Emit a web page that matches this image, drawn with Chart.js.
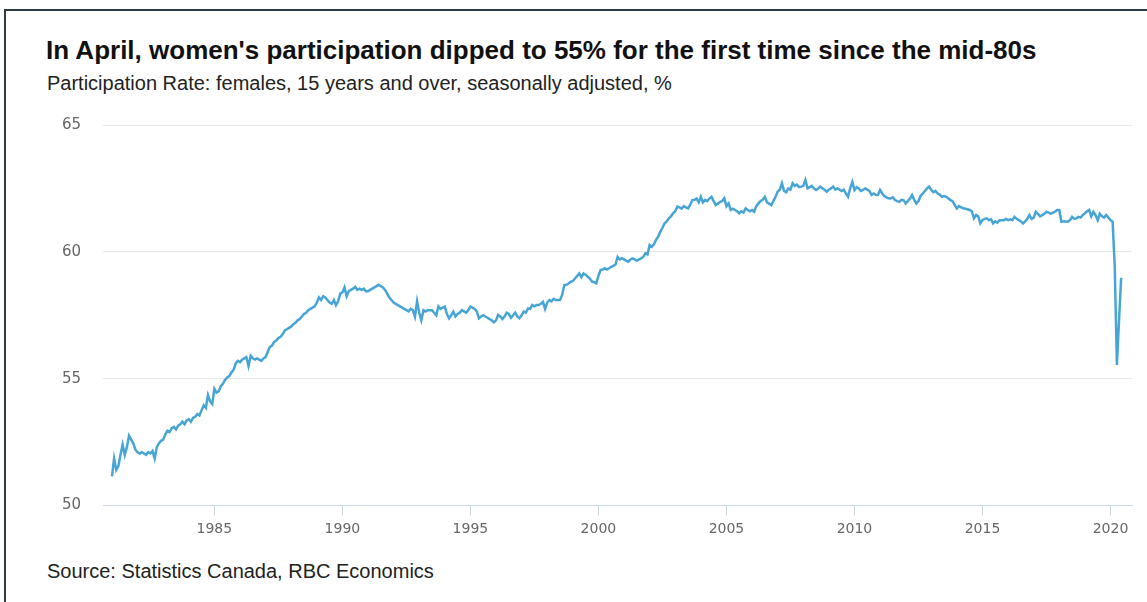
<!DOCTYPE html>
<html>
<head>
<meta charset="utf-8">
<script src="https://cdn.jsdelivr.net/npm/chart.js@4.4.1/dist/chart.umd.min.js"></script>
<style>
  html, body { margin: 0; padding: 0; background: #fff; }
  body { width: 1147px; height: 602px; position: relative; overflow: hidden; }
  .frame { position: absolute; left: 4px; top: 9px; right: -4px; bottom: -4px;
           border-top: 2px solid #2e3a44; border-left: 2px solid #2e3a44; }
  .title { position: absolute; left: 46px; top: 35px; font: bold 26px "Liberation Sans", Arial, sans-serif;
           color: #111; white-space: nowrap; }
  .subtitle { position: absolute; left: 47px; top: 72px; font: 20px "Liberation Sans", Arial, sans-serif;
              color: #222; white-space: nowrap; }
  .source { position: absolute; left: 47px; top: 560px; font: 20px "Liberation Sans", Arial, sans-serif;
            color: #222; white-space: nowrap; }
  .wrap { position: absolute; left: 0; top: 94px; width: 1147px; height: 452px; }
</style>
</head>
<body>
<div class="frame"></div>
<div class="title">In April, women's participation dipped to 55% for the first time since the mid-80s</div>
<div class="subtitle">Participation Rate: females, 15 years and over, seasonally adjusted, %</div>
<div class="wrap"><canvas id="rateChart"></canvas></div>
<div class="source">Source: Statistics Canada, RBC Economics</div>
<script>
// monthly participation rate, women 15+, one row of 12 months per year
const rate1980s = [
  [51.15, 51.85, 51.4, 51.55, 52.0, 52.4, 52.0, 52.3, 52.75, 52.6, 52.45, 52.2],   // 1981
  [52.1, 52.05, 52.1, 52.05, 52.0, 52.1, 52.05, 52.15, 51.85, 52.3, 52.45, 52.55],  // 1982
  [52.6, 52.8, 52.95, 52.9, 53.05, 53.1, 53.0, 53.15, 53.2, 53.3, 53.2, 53.35],
  [53.4, 53.3, 53.45, 53.5, 53.6, 53.55, 53.75, 53.95, 53.85, 54.35, 54.1, 54.0],
  [54.6, 54.45, 54.5, 54.7, 54.8, 54.95, 55.05, 55.1, 55.25, 55.35, 55.6, 55.7],
  [55.65, 55.75, 55.8, 55.85, 55.5, 55.9, 55.8, 55.75, 55.8, 55.75, 55.7, 55.8],
  [55.85, 56.05, 56.25, 56.3, 56.45, 56.5, 56.6, 56.65, 56.75, 56.9, 56.95, 57.0],
  [57.05, 57.15, 57.2, 57.3, 57.35, 57.45, 57.55, 57.6, 57.7, 57.75, 57.8, 57.85],
  [58.0, 58.2, 58.1, 58.25, 58.2, 58.1, 58.0, 57.95, 58.1, 57.9, 58.05, 58.35]      // 1989
];
const rate1990s = [
  [58.4, 58.6, 58.25, 58.45, 58.5, 58.55, 58.62, 58.5, 58.55, 58.5, 58.55, 58.45],
  [58.45, 58.5, 58.55, 58.6, 58.65, 58.7, 58.65, 58.6, 58.5, 58.35, 58.2, 58.1],
  [58.0, 57.95, 57.9, 57.85, 57.8, 57.75, 57.7, 57.65, 57.75, 57.7, 57.44, 58.05],
  [57.6, 57.3, 57.7, 57.65, 57.7, 57.7, 57.7, 57.6, 57.5, 57.85, 57.75, 57.8],
  [57.84, 57.55, 57.38, 57.5, 57.64, 57.45, 57.55, 57.6, 57.7, 57.65, 57.6, 57.7],
  [57.84, 57.8, 57.75, 57.65, 57.38, 57.45, 57.5, 57.45, 57.4, 57.35, 57.3, 57.22],
  [57.3, 57.51, 57.45, 57.35, 57.45, 57.6, 57.55, 57.4, 57.5, 57.6, 57.45, 57.38],
  [57.5, 57.64, 57.6, 57.77, 57.75, 57.9, 57.85, 57.9, 57.9, 57.95, 58.03, 57.75],
  [58.0, 58.1, 58.05, 58.15, 58.1, 58.1, 58.1, 58.3, 58.69, 58.7, 58.75, 58.82],
  [58.85, 58.95, 59.05, 59.15, 59.0, 59.15, 59.1, 59.02, 58.95, 58.82, 58.8, 58.76]
];
const rate2000s = [
  [59.05, 59.28, 59.3, 59.35, 59.3, 59.35, 59.41, 59.45, 59.5, 59.8, 59.7, 59.75],
  [59.7, 59.65, 59.61, 59.7, 59.74, 59.7, 59.65, 59.7, 59.74, 59.8, 59.94, 59.9],
  [60.27, 60.2, 60.3, 60.47, 60.6, 60.79, 60.95, 61.12, 61.2, 61.32, 61.4, 61.52],
  [61.6, 61.78, 61.75, 61.7, 61.8, 61.75, 61.71, 61.85, 62.04, 62.05, 62.1, 61.95],
  [62.17, 61.95, 62.05, 62.0, 62.1, 62.17, 62.0, 61.84, 61.9, 61.97, 62.0, 62.11],
  [61.8, 61.91, 61.65, 61.7, 61.65, 61.6, 61.52, 61.6, 61.55, 61.71, 61.65, 61.6],
  [61.65, 61.58, 61.8, 61.91, 62.0, 62.05, 62.17, 61.95, 61.9, 61.84, 62.0, 62.17],
  [62.37, 62.45, 62.7, 62.4, 62.35, 62.5, 62.45, 62.7, 62.6, 62.65, 62.55, 62.57],
  [62.6, 62.83, 62.5, 62.55, 62.6, 62.5, 62.44, 62.5, 62.57, 62.5, 62.45, 62.37],
  [62.45, 62.5, 62.57, 62.45, 62.5, 62.45, 62.4, 62.45, 62.3, 62.17, 62.5, 62.76]
];
const rate2010s = [
  [62.44, 62.55, 62.5, 62.4, 62.44, 62.5, 62.45, 62.4, 62.24, 62.3, 62.25, 62.24],
  [62.44, 62.3, 62.2, 62.15, 62.11, 62.1, 62.15, 62.04, 62.0, 61.97, 62.05, 62.04],
  [61.91, 62.0, 62.1, 62.24, 62.05, 61.91, 62.0, 62.2, 62.3, 62.4, 62.5, 62.57],
  [62.44, 62.35, 62.4, 62.3, 62.25, 62.17, 62.2, 62.17, 62.1, 62.04, 62.0, 61.84],
  [61.71, 61.8, 61.75, 61.72, 61.7, 61.68, 61.65, 61.6, 61.32, 61.45, 61.4, 61.12],
  [61.25, 61.3, 61.32, 61.25, 61.28, 61.12, 61.2, 61.15, 61.25, 61.25, 61.25, 61.3],
  [61.25, 61.28, 61.25, 61.38, 61.3, 61.25, 61.2, 61.12, 61.2, 61.3, 61.45, 61.3],
  [61.35, 61.58, 61.5, 61.4, 61.45, 61.5, 61.58, 61.55, 61.5, 61.55, 61.58, 61.65],
  [61.65, 61.19, 61.2, 61.2, 61.19, 61.25, 61.38, 61.3, 61.32, 61.38, 61.35, 61.45],
  [61.52, 61.6, 61.65, 61.4, 61.58, 61.45, 61.25, 61.5, 61.4, 61.35, 61.45, 61.35]
];
const rate2020 = [61.25, 61.19, 59.4, 55.54, 57.3, 58.98];   // Jan - Jun

const yearTicks = [1985, 1990, 1995, 2000, 2005, 2010, 2015, 2020];
const yTicks = [50, 55, 60, 65];

// flatten into {x: decimal year, y: rate}
const points = [];
function addYears(rows, firstYear) {
  rows.forEach((months, i) => {
    months.forEach((v, m) => points.push({ x: firstYear + i + m / 12, y: v }));
  });
}
addYears(rate1980s, 1981);
addYears(rate1990s, 1990);
addYears(rate2000s, 2000);
addYears(rate2010s, 2010);
addYears([rate2020], 2020);

const fontFamily = '"DejaVu Sans", sans-serif';

new Chart(document.getElementById('rateChart'), {
  type: 'line',
  data: {
    datasets: [{
      data: points,
      borderColor: '#47a5d5',
      borderWidth: 2.5,
      pointRadius: 0,
      tension: 0,
      fill: false
    }]
  },
  options: {
    responsive: true,
    maintainAspectRatio: false,
    animation: false,
    layout: { padding: { top: 0, right: 15, left: 0, bottom: 0 } },
    plugins: { legend: { display: false }, tooltip: { enabled: false } },
    scales: {
      x: {
        type: 'linear',
        min: 1980.65,
        max: 2020.84,
        afterBuildTicks: s => { s.ticks = yearTicks.map(v => ({ value: v })); },
        afterFit: s => { s.height = 40.5; },
        grid: { drawOnChartArea: false, drawTicks: true, tickLength: 10, color: '#ccd6eb' },
        border: { color: '#ccd6eb', width: 1 },
        ticks: { color: '#666', font: { family: fontFamily, size: 14 }, padding: 5, maxRotation: 0,
                 autoSkip: false, callback: v => String(v) }
      },
      y: {
        min: 50,
        max: 65,
        afterBuildTicks: s => { s.ticks = yTicks.map(v => ({ value: v })); },
        afterFit: s => { s.width = 103; },
        grid: { drawTicks: false, color: c => c.tick && c.tick.value === 50 ? 'rgba(0,0,0,0)' : '#e6e6e6' },
        border: { display: false },
        ticks: { color: '#666', font: { family: fontFamily, size: 15 }, padding: 22 }
      }
    }
  }
});
</script>
</body>
</html>
